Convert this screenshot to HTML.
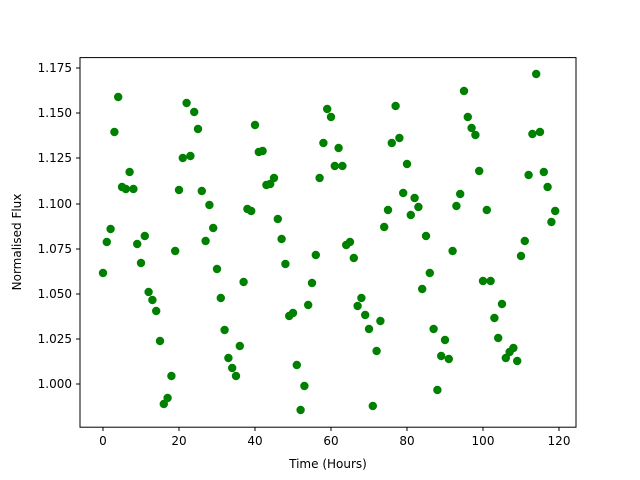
<!DOCTYPE html>
<html><head><meta charset="utf-8"><style>
body{margin:0;background:#fff;}
svg{display:block;font-family:"DejaVu Sans","Liberation Sans",sans-serif;}
</style></head><body>
<svg width="640" height="480" viewBox="0 0 640 480" xmlns="http://www.w3.org/2000/svg">
<rect width="640" height="480" fill="#fff"/>
<g fill="#008000">
<circle cx="103" cy="273" r="4.2"/><circle cx="106.8" cy="242" r="4.2"/><circle cx="110.6" cy="229" r="4.2"/><circle cx="114.4" cy="132" r="4.2"/><circle cx="118.2" cy="97" r="4.2"/><circle cx="122" cy="187" r="4.2"/><circle cx="125.8" cy="189" r="4.2"/><circle cx="129.6" cy="172" r="4.2"/><circle cx="133.4" cy="189" r="4.2"/><circle cx="137.2" cy="244" r="4.2"/>
<circle cx="141" cy="263" r="4.2"/><circle cx="144.8" cy="236" r="4.2"/><circle cx="148.6" cy="292" r="4.2"/><circle cx="152.4" cy="300" r="4.2"/><circle cx="156.2" cy="311" r="4.2"/><circle cx="160" cy="341" r="4.2"/><circle cx="163.8" cy="404" r="4.2"/><circle cx="167.6" cy="398" r="4.2"/><circle cx="171.4" cy="376" r="4.2"/><circle cx="175.2" cy="251" r="4.2"/>
<circle cx="179" cy="190" r="4.2"/><circle cx="182.8" cy="158" r="4.2"/><circle cx="186.6" cy="103" r="4.2"/><circle cx="190.4" cy="156" r="4.2"/><circle cx="194.2" cy="112" r="4.2"/><circle cx="198" cy="129" r="4.2"/><circle cx="201.8" cy="191" r="4.2"/><circle cx="205.6" cy="241" r="4.2"/><circle cx="209.4" cy="205" r="4.2"/><circle cx="213.2" cy="228" r="4.2"/>
<circle cx="217" cy="269" r="4.2"/><circle cx="220.8" cy="298" r="4.2"/><circle cx="224.6" cy="330" r="4.2"/><circle cx="228.4" cy="358" r="4.2"/><circle cx="232.2" cy="368" r="4.2"/><circle cx="236" cy="376" r="4.2"/><circle cx="239.8" cy="346" r="4.2"/><circle cx="243.6" cy="282" r="4.2"/><circle cx="247.4" cy="209" r="4.2"/><circle cx="251.2" cy="211" r="4.2"/>
<circle cx="255" cy="125" r="4.2"/><circle cx="258.8" cy="152" r="4.2"/><circle cx="262.6" cy="151" r="4.2"/><circle cx="266.4" cy="185" r="4.2"/><circle cx="270.2" cy="184" r="4.2"/><circle cx="274" cy="178" r="4.2"/><circle cx="277.8" cy="219" r="4.2"/><circle cx="281.6" cy="239" r="4.2"/><circle cx="285.4" cy="264" r="4.2"/><circle cx="289.2" cy="316" r="4.2"/>
<circle cx="293" cy="313" r="4.2"/><circle cx="296.8" cy="365" r="4.2"/><circle cx="300.6" cy="410" r="4.2"/><circle cx="304.4" cy="386" r="4.2"/><circle cx="308.2" cy="305" r="4.2"/><circle cx="312" cy="283" r="4.2"/><circle cx="315.8" cy="255" r="4.2"/><circle cx="319.6" cy="178" r="4.2"/><circle cx="323.4" cy="143" r="4.2"/><circle cx="327.2" cy="109" r="4.2"/>
<circle cx="331" cy="117" r="4.2"/><circle cx="334.8" cy="166" r="4.2"/><circle cx="338.6" cy="148" r="4.2"/><circle cx="342.4" cy="166" r="4.2"/><circle cx="346.2" cy="245" r="4.2"/><circle cx="350" cy="242" r="4.2"/><circle cx="353.8" cy="258" r="4.2"/><circle cx="357.6" cy="306" r="4.2"/><circle cx="361.4" cy="298" r="4.2"/><circle cx="365.2" cy="315" r="4.2"/>
<circle cx="369" cy="329" r="4.2"/><circle cx="372.8" cy="406" r="4.2"/><circle cx="376.6" cy="351" r="4.2"/><circle cx="380.4" cy="321" r="4.2"/><circle cx="384.2" cy="227" r="4.2"/><circle cx="388" cy="210" r="4.2"/><circle cx="391.8" cy="143" r="4.2"/><circle cx="395.6" cy="106" r="4.2"/><circle cx="399.4" cy="138" r="4.2"/><circle cx="403.2" cy="193" r="4.2"/>
<circle cx="407" cy="164" r="4.2"/><circle cx="410.8" cy="215" r="4.2"/><circle cx="414.6" cy="198" r="4.2"/><circle cx="418.4" cy="207" r="4.2"/><circle cx="422.2" cy="289" r="4.2"/><circle cx="426" cy="236" r="4.2"/><circle cx="429.8" cy="273" r="4.2"/><circle cx="433.6" cy="329" r="4.2"/><circle cx="437.4" cy="390" r="4.2"/><circle cx="441.2" cy="356" r="4.2"/>
<circle cx="445" cy="340" r="4.2"/><circle cx="448.8" cy="359" r="4.2"/><circle cx="452.6" cy="251" r="4.2"/><circle cx="456.4" cy="206" r="4.2"/><circle cx="460.2" cy="194" r="4.2"/><circle cx="464" cy="91" r="4.2"/><circle cx="467.8" cy="117" r="4.2"/><circle cx="471.6" cy="128" r="4.2"/><circle cx="475.4" cy="135" r="4.2"/><circle cx="479.2" cy="171" r="4.2"/>
<circle cx="483" cy="281" r="4.2"/><circle cx="486.8" cy="210" r="4.2"/><circle cx="490.6" cy="281" r="4.2"/><circle cx="494.4" cy="318" r="4.2"/><circle cx="498.2" cy="338" r="4.2"/><circle cx="502" cy="304" r="4.2"/><circle cx="505.8" cy="358" r="4.2"/><circle cx="509.6" cy="352" r="4.2"/><circle cx="513.4" cy="348" r="4.2"/><circle cx="517.2" cy="361" r="4.2"/>
<circle cx="521" cy="256" r="4.2"/><circle cx="524.8" cy="241" r="4.2"/><circle cx="528.6" cy="175" r="4.2"/><circle cx="532.4" cy="134" r="4.2"/><circle cx="536.2" cy="74" r="4.2"/><circle cx="540" cy="132" r="4.2"/><circle cx="543.8" cy="172" r="4.2"/><circle cx="547.6" cy="187" r="4.2"/><circle cx="551.4" cy="222" r="4.2"/><circle cx="555.2" cy="211" r="4.2"/>
</g>
<rect x="80" y="57.6" width="496" height="369.6" fill="none" stroke="#000" stroke-width="1"/>
<g stroke="#000" stroke-width="1">
<line x1="103" y1="427" x2="103" y2="431"/><line x1="179" y1="427" x2="179" y2="431"/><line x1="255" y1="427" x2="255" y2="431"/><line x1="331" y1="427" x2="331" y2="431"/><line x1="407" y1="427" x2="407" y2="431"/><line x1="483" y1="427" x2="483" y2="431"/><line x1="559" y1="427" x2="559" y2="431"/>
<line x1="76" y1="384" x2="80" y2="384"/><line x1="76" y1="339" x2="80" y2="339"/><line x1="76" y1="294" x2="80" y2="294"/><line x1="76" y1="249" x2="80" y2="249"/><line x1="76" y1="204" x2="80" y2="204"/><line x1="76" y1="158" x2="80" y2="158"/><line x1="76" y1="113" x2="80" y2="113"/><line x1="76" y1="68" x2="80" y2="68"/>
</g>
<g font-size="12" fill="#000" text-anchor="middle">
<text x="103" y="445">0</text><text x="179" y="445">20</text><text x="255" y="445">40</text><text x="331" y="445">60</text><text x="407" y="445">80</text><text x="483" y="445">100</text><text x="559" y="445">120</text>
<text x="328" y="468">Time (Hours)</text>
</g>
<g font-size="12" fill="#000" text-anchor="end">
<text x="72" y="388">1.000</text><text x="72" y="343">1.025</text><text x="72" y="298">1.050</text><text x="72" y="253">1.075</text><text x="72" y="208">1.100</text><text x="72" y="162">1.125</text><text x="72" y="117">1.150</text><text x="72" y="72">1.175</text>
</g>
<text transform="translate(21,242) rotate(-90)" font-size="12" text-anchor="middle">Normalised Flux</text>
</svg>
</body></html>
